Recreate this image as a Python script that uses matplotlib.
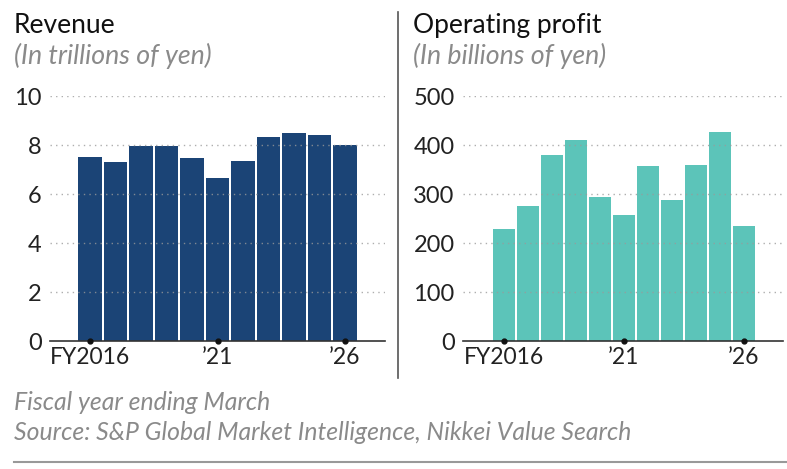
import matplotlib
matplotlib.use("Agg")
import matplotlib.pyplot as plt
from matplotlib.lines import Line2D

plt.rcParams['font.family'] = ['Lato', 'DejaVu Sans']

# data
years = list(range(2016, 2027))
revenue = [7.52, 7.31, 7.95, 7.96, 7.46, 6.67, 7.36, 8.33, 8.48, 8.42, 8.01]
op_profit = [229, 276, 379, 411, 293, 257, 357, 288, 359, 426, 235]
tick_years = [2016, 2021, 2026]
tick_labels = ['FY2016', '\u201921', '\u201926']

navy = '#1b4476'
teal = '#5cc4b9'
grey_txt = '#8a8a8a'

W, H = 787, 469
fig = plt.figure(figsize=(W / 100, H / 100), dpi=100)


def fx(px):
    return px / W


def fy(py):
    return 1 - py / H


def panel(left_px, right_px, vals, color, ylim, yticks, xpad):
    ax = fig.add_axes([fx(left_px), fy(341), fx(right_px - left_px), fy(96) - fy(341)])
    ax.bar(years, vals, width=0.93, color=color, edgecolor='none', zorder=2)
    ax.set_ylim(*ylim)
    ax.set_xlim(years[0] - xpad[0], years[-1] + xpad[1])
    ax.set_yticks(yticks)
    ax.set_yticklabels([str(v) for v in yticks])
    ax.set_xticks(tick_years)
    ax.set_xticklabels(tick_labels)
    for s in ['top', 'right', 'left']:
        ax.spines[s].set_visible(False)
    ax.spines['bottom'].set_color('#333333')
    ax.spines['bottom'].set_linewidth(1.2)
    ax.spines['bottom'].set_zorder(4)
    ax.tick_params(axis='y', length=0, pad=6, labelsize=17, labelcolor='#222222')
    ax.tick_params(axis='x', length=0, pad=4, labelsize=16.5, labelcolor='#222222')
    for t in yticks[1:]:
        ax.axhline(t, color='#9a9a9a', lw=1.0, ls=(0, (1, 3)), alpha=0.8, zorder=3)
    ax.plot(tick_years, [0] * len(tick_years), 'o', color='#111111', ms=3.5,
            clip_on=False, zorder=5)
    ax.set_facecolor('none')
    return ax


panel(50, 385, revenue, navy, (0, 10), [0, 2, 4, 6, 8, 10], (1.57, 1.57))
panel(463, 783, op_profit, teal, (0, 500), [0, 100, 200, 300, 400, 500], (1.7, 1.63))

# titles
fig.text(fx(14), fy(33), 'Revenue', fontsize=19, color='#111111', va='baseline')
fig.text(fx(14), fy(64), '(In trillions of yen)', fontsize=19.3, color=grey_txt,
         style='italic', va='baseline')
fig.text(fx(413), fy(33), 'Operating profit', fontsize=19, color='#111111', va='baseline')
fig.text(fx(413), fy(64), '(In billions of yen)', fontsize=19.3, color=grey_txt,
         style='italic', va='baseline')

# separator and footer
fig.add_artist(Line2D([fx(398), fx(398)], [fy(12), fy(378)], color='#555555', lw=1.2))
fig.text(fx(14), fy(410), 'Fiscal year ending March', fontsize=17.8, color=grey_txt,
         style='italic', va='baseline')
fig.text(fx(14), fy(440), 'Source: S&P Global Market Intelligence, Nikkei Value Search',
         fontsize=17.8, color=grey_txt, style='italic', va='baseline')
fig.add_artist(Line2D([fx(14), fx(787)], [fy(462), fy(462)], color='#999999', lw=1.5))

fig.savefig('out.png', dpi=100, facecolor='white')
